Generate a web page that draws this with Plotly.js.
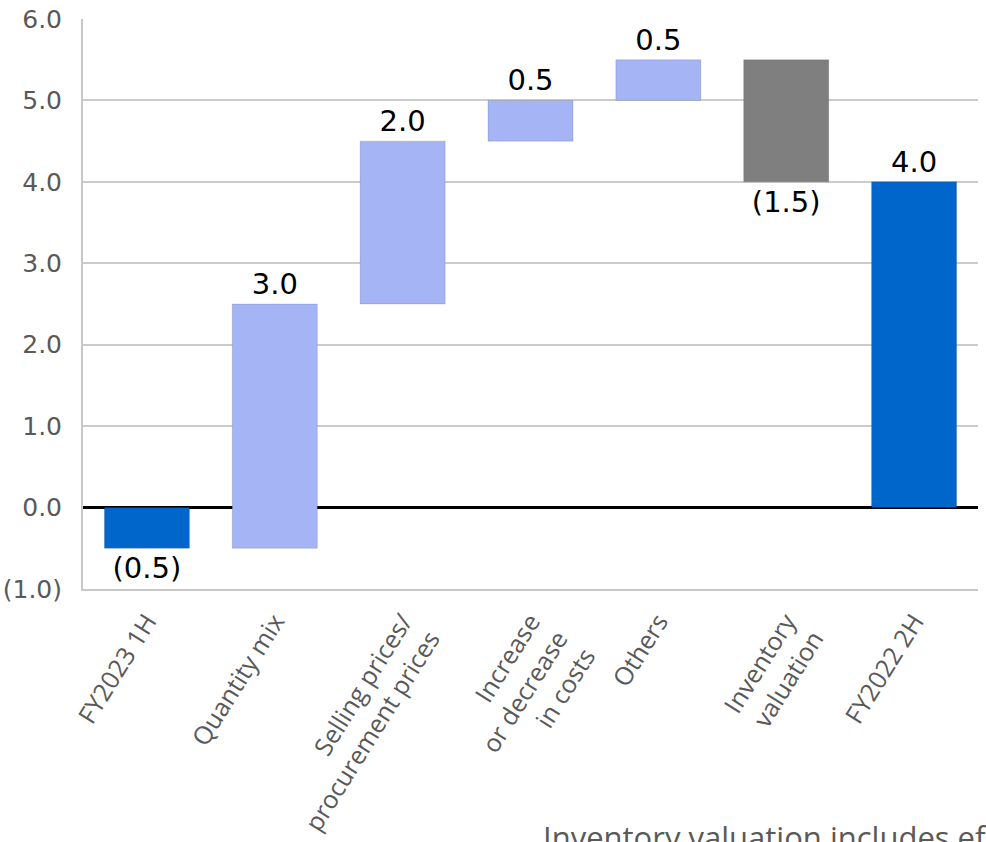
<!DOCTYPE html>
<html>
<head>
<meta charset="utf-8">
<script src="https://cdn.plot.ly/plotly-3.0.1.min.js"></script>
<style>
  html, body { margin: 0; padding: 0; background: #fff; }
  #chart { width: 986px; height: 842px; }
</style>
</head>
<body>
<div id="chart"></div>
<script>
// ---- data ----
const categories = [
  "FY2023 1H",
  "Quantity mix",
  "Selling prices/<br>procurement prices",
  "Increase<br>or decrease<br>in costs",
  "Others",
  "Inventory<br>valuation",
  "FY2022 2H"
];
const measures = ["absolute", "relative", "relative", "relative", "relative", "relative", "total"];
const changes = [-0.5, 3.0, 2.0, 0.5, 0.5, -1.5, 4.0];
const yTickVals = [-1, 0, 1, 2, 3, 4, 5, 6];
const yTickText = ["(1.0)", "0.0", "1.0", "2.0", "3.0", "4.0", "5.0", "6.0"];
const footnote = "Inventory valuation includes effects";

// ---- colours ----
const cTotal = "#0066CC", cUp = "#A4B4F4", cDown = "#7F7F7F";

// build waterfall geometry from the data
const bases = [], heights = [], colors = [], labels = [];
let running = 0;
measures.forEach((m, i) => {
  const v = changes[i];
  if (m === "absolute") { bases.push(0); heights.push(v); running = v; colors.push(cTotal); }
  else if (m === "total") { bases.push(0); heights.push(running); colors.push(cTotal); }
  else { bases.push(running); heights.push(v); running += v; colors.push(v >= 0 ? cUp : cDown); }
  labels.push(v < 0 ? "(" + Math.abs(v).toFixed(1) + ")" : v.toFixed(1));
});

const trace = {
  type: "bar",
  x: categories,
  y: heights,
  base: bases,
  width: 0.665,
  marker: { color: colors, line: { color: "rgba(0,0,0,0.12)", width: 1 } },
  text: labels,
  textposition: "outside",
  constraintext: "none",
  cliponaxis: false,
  textfont: { family: "DejaVu Sans, Verdana, sans-serif", size: 29, color: "#000" },
  hoverinfo: "skip"
};

const layout = {
  width: 986, height: 842,
  margin: { l: 83, r: 8, t: 19, b: 252.5, pad: 0 },
  paper_bgcolor: "#fff", plot_bgcolor: "#fff",
  showlegend: false,
  bargap: 0.335,
  xaxis: {
    type: "category",
    showgrid: false,
    showline: true, linecolor: "#c8c8c8", linewidth: 2,
    ticks: "",
    tickangle: -58,
    ticklabelstandoff: 6,
    tickfont: { family: "Open Sans, sans-serif", size: 25, color: "#595959" },
    fixedrange: true
  },
  yaxis: {
    range: [-1, 6],
    tickvals: yTickVals, ticktext: yTickText,
    showgrid: true, gridcolor: "#cccccc", gridwidth: 2,
    zeroline: true, zerolinecolor: "#000", zerolinewidth: 3,
    showline: true, linecolor: "#c8c8c8", linewidth: 2,
    ticks: "",
    ticklabelstandoff: 14,
    tickfont: { family: "DejaVu Sans, Verdana, sans-serif", size: 25, color: "#595959" },
    fixedrange: true
  },
  annotations: [{
    text: footnote,
    xref: "paper", yref: "paper",
    x: 0.512, y: -0.394,
    xanchor: "left", yanchor: "top",
    showarrow: false,
    font: { family: "Open Sans, sans-serif", size: 31, color: "#595959" }
  }]
};

Plotly.newPlot("chart", [trace], layout, { staticPlot: true, displayModeBar: false });
</script>
</body>
</html>
